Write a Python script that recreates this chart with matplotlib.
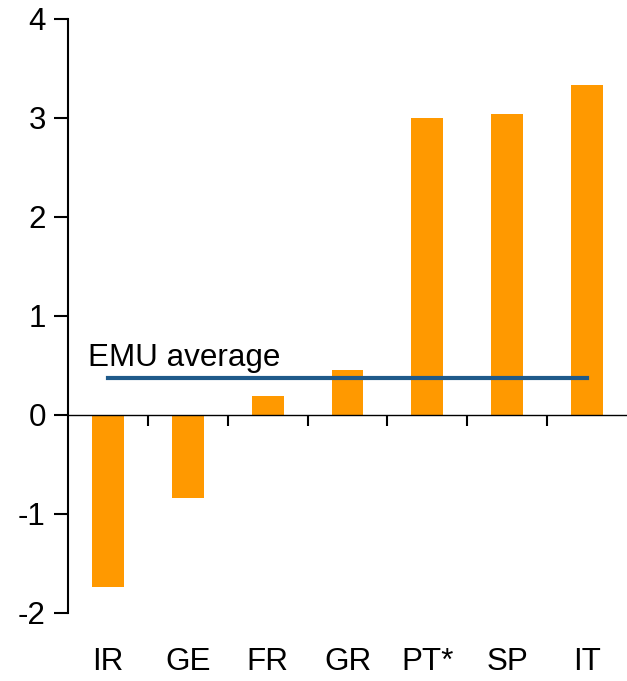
import matplotlib
matplotlib.use("Agg")
import matplotlib.pyplot as plt
import numpy as np

categories = ["IR", "GE", "FR", "GR", "PT*", "SP", "IT"]
values = [-1.74, -0.84, 0.19, 0.45, 3.00, 3.04, 3.33]
emu_average = 0.37
emu_label = "EMU average"
y_ticks = [-2, -1, 0, 1, 2, 3, 4]

plt.rcParams['font.family'] = ['Liberation Sans', 'DejaVu Sans']
FS = 22.6

fig = plt.figure(figsize=(6.27, 6.81), dpi=100)
ax = fig.add_axes([0.1085, 0.0999, 0.8915, 0.8722])

x = np.arange(len(categories))
ax.bar(x, values, width=0.4, color="#FF9900", zorder=2)
ax.plot([x[0], x[-1]], [emu_average, emu_average], color="#1F5A8A", lw=3, zorder=3)
ax.text(x[0] - 0.25, emu_average + 0.21, emu_label, fontsize=FS, va="center", ha="left")

ax.set_xlim(-0.5, len(categories) - 0.5)
ax.set_ylim(-2, 4)
ax.set_yticks(y_ticks)
ax.set_yticklabels([str(t) for t in y_ticks], fontsize=FS)
ax.tick_params(axis="y", direction="out", length=10, width=1.5, pad=6)

ax.spines["top"].set_visible(False)
ax.spines["right"].set_visible(False)
ax.spines["left"].set_linewidth(1.5)
ax.spines["bottom"].set_position(("data", 0))
ax.spines["bottom"].set_linewidth(1.0)

ax.set_xticks(x[:-1] + 0.5)
ax.set_xticklabels([])
ax.tick_params(axis="x", direction="out", length=8, width=1.5)

for xi, lab in zip(x, categories):
    ax.text(xi, -0.0826, lab, transform=ax.get_xaxis_transform(), ha="center", va="center", fontsize=FS)

fig.savefig("out.png", dpi=100)
